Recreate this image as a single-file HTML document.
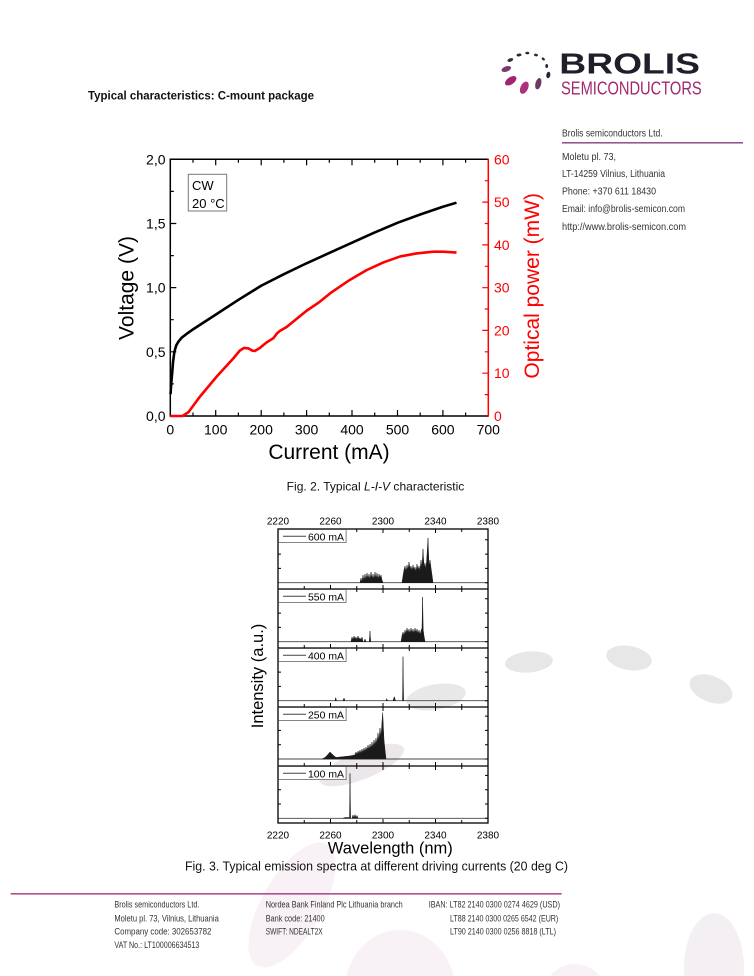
<!DOCTYPE html>
<html><head><meta charset="utf-8"><style>
html,body{margin:0;padding:0;background:#fff;width:754px;height:976px;overflow:hidden;}
svg{display:block;overflow:hidden;}
text{font-family:"Liberation Sans",sans-serif;}
</style></head><body>
<svg width="754" height="976" viewBox="0 0 754 976" xmlns="http://www.w3.org/2000/svg">
<!-- background decorative shapes -->
<ellipse cx="529" cy="662" rx="24" ry="10.5" transform="rotate(-5 529 662)" fill="#e7e7e7"/>
<ellipse cx="629" cy="658" rx="23" ry="12" transform="rotate(10 629 658)" fill="#e7e7e7"/>
<ellipse cx="711" cy="689" rx="22.5" ry="13" transform="rotate(22 711 689)" fill="#e7e7e7"/>
<ellipse cx="436" cy="697" rx="30" ry="12.7" transform="rotate(-10 436 697)" fill="#e8e8e8"/>
<ellipse cx="362" cy="765" rx="45" ry="14" transform="rotate(-22 362 765)" fill="#ebe7ea"/>
<ellipse cx="292" cy="905" rx="30" ry="70" transform="rotate(30 292 905)" fill="#f8f1f5"/>
<path d="M346.5,976 A55,60 0 0 1 453.5,976 Z" fill="#f8f1f5"/>
<path d="M550.4,976 A30,28 0 0 1 599.6,976 Z" fill="#f8f1f5"/>
<path d="M684.3,976 A30,55 0 1 1 743.7,976 Z" fill="#f3eff2"/>

<!-- logo -->
<g>
<ellipse cx="510.7" cy="80.8" rx="6.5" ry="3.6" transform="rotate(-35 510.7 80.8)" fill="#a1246f"/>
<ellipse cx="524.3" cy="87.7" rx="3.8" ry="6.5" transform="rotate(25 524.3 87.7)" fill="#b02f7b"/>
<ellipse cx="538.3" cy="83.7" rx="2.9" ry="5.8" transform="rotate(15 538.3 83.7)" fill="#6e3a62"/>
<ellipse cx="506.3" cy="69" rx="5" ry="2.6" transform="rotate(-20 506.3 69)" fill="#7a3a6e"/>
<ellipse cx="510.3" cy="60" rx="3" ry="1.7" transform="rotate(-20 510.3 60)" fill="#3a2a3a"/>
<ellipse cx="519" cy="55" rx="2.5" ry="1.4" transform="rotate(-10 519 55)" fill="#2e2532"/>
<ellipse cx="527.3" cy="53" rx="2" ry="1.3" fill="#2e2532"/>
<ellipse cx="536" cy="55" rx="2" ry="1.3" transform="rotate(15 536 55)" fill="#2e2532"/>
<ellipse cx="543.3" cy="59" rx="1.8" ry="1.2" transform="rotate(40 543.3 59)" fill="#2e2532"/>
<ellipse cx="546.7" cy="66" rx="1.4" ry="2" fill="#2e2532"/>
<ellipse cx="548.3" cy="75" rx="2" ry="3.3" transform="rotate(10 548.3 75)" fill="#2a2030"/>
<text x="559.3" y="73.3" font-size="28.8" font-weight="bold" fill="#1f1f2b" textLength="140.7" lengthAdjust="spacingAndGlyphs">BROLIS</text>
<text x="561" y="94.3" font-size="18.5" fill="#a0286e" textLength="140.7" lengthAdjust="spacingAndGlyphs">SEMICONDUCTORS</text>
</g>

<!-- header -->
<text x="88" y="99.5" font-size="12" font-weight="bold" fill="#111" textLength="226" lengthAdjust="spacingAndGlyphs">Typical characteristics: C-mount package</text>

<!-- right column -->
<g font-size="10" fill="#333">
<text x="562" y="136.5" textLength="100.7" lengthAdjust="spacingAndGlyphs">Brolis semiconductors Ltd.</text>
<line x1="562" y1="142.8" x2="743" y2="142.8" stroke="#8a3a7e" stroke-width="1.4"/>
<text x="562" y="160" textLength="54" lengthAdjust="spacingAndGlyphs">Moletu pl.  73,</text>
<text x="562" y="177" textLength="103" lengthAdjust="spacingAndGlyphs">LT-14259 Vilnius, Lithuania</text>
<text x="562" y="194.5" textLength="94" lengthAdjust="spacingAndGlyphs">Phone: +370 611 18430</text>
<text x="562" y="212" textLength="123" lengthAdjust="spacingAndGlyphs">Email: info@brolis-semicon.com</text>
<text x="562" y="230" textLength="124" lengthAdjust="spacingAndGlyphs">http://www.brolis-semicon.com</text>
</g>

<!-- ===== Chart 1 ===== -->
<g>
<g stroke="#000" stroke-width="1.2">
<path d="M193,416v-3.5M215.7,416v-6M238.4,416v-3.5M261.2,416v-6M283.9,416v-3.5M306.6,416v-6M329.3,416v-3.5M352,416v-6M374.7,416v-3.5M397.5,416v-6M420.2,416v-3.5M442.9,416v-6M465.6,416v-3.5"/>
<path d="M193,159.3v3.5M215.7,159.3v6M238.4,159.3v3.5M261.2,159.3v6M283.9,159.3v3.5M306.6,159.3v6M329.3,159.3v3.5M352,159.3v6M374.7,159.3v3.5M397.5,159.3v6M420.2,159.3v3.5M442.9,159.3v6M465.6,159.3v3.5"/>
<path d="M170.3,383.9h3.5M170.3,351.8h6M170.3,319.7h3.5M170.3,287.6h6M170.3,255.6h3.5M170.3,223.5h6M170.3,191.4h3.5"/>
</g>
<g stroke="#f00" stroke-width="1.2">
<path d="M488.3,394.6h-3.5M488.3,373.2h-6M488.3,351.8h-3.5M488.3,330.4h-6M488.3,309h-3.5M488.3,287.7h-6M488.3,266.3h-3.5M488.3,244.9h-6M488.3,223.5h-3.5M488.3,202.1h-6M488.3,180.7h-3.5"/>
</g>
<path d="M488.3,159.3H170.3V416H488.3" fill="none" stroke="#000" stroke-width="1.5"/>
<line x1="488.3" y1="158.6" x2="488.3" y2="416.7" stroke="#f00" stroke-width="1.5"/>

<g transform="translate(170.3,416) scale(0.4543,-4.278)">
<polyline fill="none" stroke="#f00" stroke-width="2.6" vector-effect="non-scaling-stroke" stroke-linejoin="round" points="0,0 27,0 40,0.9 65,4.5 102,9.2 139,13.5 153,15.3 162,15.9 172,15.8 180,15.3 186,15.2 197,15.9 212,17.2 227,18.2 234,19.2 240,19.8 256,20.8 300,24.6 329,26.7 352,28.7 395,31.8 432,34.1 469,35.9 506,37.3 542,38 579,38.4 600,38.4 630,38.2"/>
</g>
<g transform="translate(170.3,416) scale(0.4543,-128.35)">
<polyline fill="none" stroke="#000" stroke-width="2.6" vector-effect="non-scaling-stroke" stroke-linejoin="round" points="0.5,0.17 2,0.25 4,0.33 6,0.42 9,0.5 13,0.55 18,0.58 25,0.61 35,0.637 50,0.675 100,0.79 150,0.905 200,1.015 250,1.105 300,1.19 350,1.27 400,1.35 450,1.43 500,1.505 550,1.57 600,1.63 630,1.662"/>
</g>

<rect x="188.3" y="174.3" width="38.4" height="36.7" fill="#fff" stroke="#777" stroke-width="1"/>
<text x="192" y="190" font-size="13" fill="#000">CW</text>
<text x="192" y="208" font-size="13" fill="#000">20 °C</text>

<g font-size="14" fill="#000" text-anchor="end">
<text x="165.5" y="421">0,0</text>
<text x="165.5" y="356.8">0,5</text>
<text x="165.5" y="292.6">1,0</text>
<text x="165.5" y="228.5">1,5</text>
<text x="165.5" y="164.3">2,0</text>
</g>
<g font-size="14" fill="#f00">
<text x="494" y="421">0</text>
<text x="494" y="378.2">10</text>
<text x="494" y="335.4">20</text>
<text x="494" y="292.7">30</text>
<text x="494" y="249.9">40</text>
<text x="494" y="207.1">50</text>
<text x="494" y="164.3">60</text>
</g>
<g font-size="14" fill="#000" text-anchor="middle">
<text x="170.3" y="434.5">0</text>
<text x="215.7" y="434.5">100</text>
<text x="261.2" y="434.5">200</text>
<text x="306.6" y="434.5">300</text>
<text x="352" y="434.5">400</text>
<text x="397.5" y="434.5">500</text>
<text x="442.9" y="434.5">600</text>
<text x="488.3" y="434.5">700</text>
</g>
<text x="329" y="459" font-size="21" text-anchor="middle" fill="#000">Current (mA)</text>
<text transform="translate(133.5,288) rotate(-90)" font-size="21" text-anchor="middle" fill="#000">Voltage (V)</text>
<text transform="translate(539,285.8) rotate(-90)" font-size="21" text-anchor="middle" fill="#f00">Optical power (mW)</text>
</g>

<text x="286.7" y="490.5" font-size="12" fill="#111" textLength="177.6" lengthAdjust="spacingAndGlyphs">Fig. 2. Typical <tspan font-style="italic">L-I-V</tspan> characteristic</text>

<!-- ===== Chart 2 ===== -->
<g>
<g stroke="#444" stroke-width="0.9">
<line x1="278" y1="582.7" x2="488" y2="582.7"/>
<line x1="278" y1="641.7" x2="488" y2="641.7"/>
<line x1="278" y1="700.7" x2="488" y2="700.7"/>
<line x1="278" y1="759" x2="488" y2="759"/>
<line x1="278" y1="818.3" x2="488" y2="818.3"/>
</g>
<g fill="#1a1a1a" stroke="#1a1a1a" stroke-width="0.5" stroke-linejoin="round">
<polygon points="360,582.7 361,578 362,582 363,575 364,581 365,574 366,580 367,573 368,579 369,574 370,580 371,572 372,579 373,574 374,580 375,572 376,579 377,573 378,580 379,574 380,578 381,575 382,580 383,582.7"/>
<polygon points="402,582.7 403,576 404,570 405,566 406,572 407,565 408,570 409,562 410,569 411,566 412,571 413,565 414,570 415,567 416,572 417,564 418,570 419,566 420,571 421,560 422,568 423,549 424,567 425,563 426,570 427,555 428,538 429,566 430,560 431,568 432,575 433,582.7"/>
<polygon points="351,641.7 352,637 353,640 354,636 355,639 356,637 357,640 358,636 359,639 360,638 361,640 362,637 363,641.7"/>
<polygon points="364,641.7 365,639 366,641.7"/>
<polygon points="369.3,641.7 370,631 370.7,641.7"/>
<polygon points="401,641.7 402,636 403,632 404,636 405,630 406,634 407,628 408,633 409,629 410,634 411,628 412,633 413,629 414,634 415,628 416,633 417,629 418,634 419,630 420,635 421,631 422,628 422.6,597 423.2,630 424,636 425,641.7"/>
<polygon points="335,700.7 335.7,697.5 336.5,700.7"/>
<polygon points="343,700.7 344,698 345,700.7"/>
<polygon points="386,700.7 386.7,698.7 387.5,700.7"/>
<polygon points="393,700.7 394.3,696.7 395.5,700.7"/>
<polygon points="402.5,700.7 403,656.7 403.6,700.7"/>
<polygon points="322,759 325,757.5 327,755.5 330,752 333,755 336,757.5 340,757 345,756.5 350,756 355,755 356,752 357,755 358,751 359,754 360,750 361,754 362,749 363,753 364,748 365,752 366,747 367,751 368,745 369,750 370,744 371,749 372,742 373,748 374,740 375,746 376,738 377,744 378,733 379,741 380,728 381,738 382,722 382.7,712.7 383.4,728 384,740 385,750 386,759"/>
<polygon points="343,818.3 345,817.5 349,817.5 349.5,818.3"/>
<polygon points="349.5,818.3 350,773.3 350.6,818.3"/>
<polygon points="352,818.3 353,815 354,818 355,814.5 356,818 357,815.5 358,818.3"/>
</g>

<g stroke="#000" stroke-width="1">
<path d="M304.25,589v-3M330.5,589v-4M356.75,589v-3M383,589v-4M409.25,589v-3M435.5,589v-4M461.75,589v-3
M304.25,648v-3M330.5,648v-4M356.75,648v-3M383,648v-4M409.25,648v-3M435.5,648v-4M461.75,648v-3
M304.25,707v-3M330.5,707v-4M356.75,707v-3M383,707v-4M409.25,707v-3M435.5,707v-4M461.75,707v-3
M304.25,766v-3M330.5,766v-4M356.75,766v-3M383,766v-4M409.25,766v-3M435.5,766v-4M461.75,766v-3
M304.25,823v-3M330.5,823v-4M356.75,823v-3M383,823v-4M409.25,823v-3M435.5,823v-4M461.75,823v-3"/>
<path d="M304.25,529v3M330.5,529v4M356.75,529v3M383,529v4M409.25,529v3M435.5,529v4M461.75,529v3
M304.25,589v3M330.5,589v4M356.75,589v3M383,589v4M409.25,589v3M435.5,589v4M461.75,589v3
M304.25,648v3M330.5,648v4M356.75,648v3M383,648v4M409.25,648v3M435.5,648v4M461.75,648v3
M304.25,707v3M330.5,707v4M356.75,707v3M383,707v4M409.25,707v3M435.5,707v4M461.75,707v3
M304.25,766v3M330.5,766v4M356.75,766v3M383,766v4M409.25,766v3M435.5,766v4M461.75,766v3"/>
<path d="M488,582.7h-3M488,568.4h-3M488,554.1h-3M488,539.8h-3
M488,641.7h-3M488,627.4h-3M488,613.1h-3M488,598.8h-3
M488,700.7h-3M488,686.4h-3M488,672.1h-3M488,657.8h-3
M488,759h-3M488,744.7h-3M488,730.4h-3M488,716.1h-3
M488,818.3h-3M488,804h-3M488,789.7h-3M488,775.4h-3"/>
<path d="M278,568.4h3M278,554.1h3M278,627.4h3M278,613.1h3M278,686.4h3M278,672.1h3M278,744.7h3M278,730.4h3M278,804h3M278,789.7h3"/>
</g>
<g fill="none" stroke="#000" stroke-width="1.3">
<rect x="278" y="529" width="210" height="294"/>
<line x1="278" y1="589" x2="488" y2="589"/>
<line x1="278" y1="648" x2="488" y2="648"/>
<line x1="278" y1="707" x2="488" y2="707"/>
<line x1="278" y1="766" x2="488" y2="766"/>
</g>
<g font-size="10.5" fill="#000">
<rect x="278.6" y="529.6" width="67.5" height="13" fill="#fff" stroke="#666" stroke-width="0.8"/>
<line x1="283" y1="536.2" x2="306" y2="536.2" stroke="#444" stroke-width="1"/>
<text x="308" y="540.3" textLength="36" lengthAdjust="spacingAndGlyphs">600 mA</text>
<rect x="278.6" y="589.6" width="67.5" height="13" fill="#fff" stroke="#666" stroke-width="0.8"/>
<line x1="283" y1="596.2" x2="306" y2="596.2" stroke="#444" stroke-width="1"/>
<text x="308" y="600.3" textLength="36" lengthAdjust="spacingAndGlyphs">550 mA</text>
<rect x="278.6" y="648.6" width="67.5" height="13" fill="#fff" stroke="#666" stroke-width="0.8"/>
<line x1="283" y1="655.2" x2="306" y2="655.2" stroke="#444" stroke-width="1"/>
<text x="308" y="659.3" textLength="36" lengthAdjust="spacingAndGlyphs">400 mA</text>
<rect x="278.6" y="707.6" width="67.5" height="13" fill="#fff" stroke="#666" stroke-width="0.8"/>
<line x1="283" y1="714.2" x2="306" y2="714.2" stroke="#444" stroke-width="1"/>
<text x="308" y="718.3" textLength="36" lengthAdjust="spacingAndGlyphs">250 mA</text>
<rect x="278.6" y="766.6" width="67.5" height="13" fill="#fff" stroke="#666" stroke-width="0.8"/>
<line x1="283" y1="773.2" x2="306" y2="773.2" stroke="#444" stroke-width="1"/>
<text x="308" y="777.3" textLength="36" lengthAdjust="spacingAndGlyphs">100 mA</text>
</g>
<g font-size="10" fill="#000" text-anchor="middle">
<text x="278" y="524.3">2220</text>
<text x="330.5" y="524.3">2260</text>
<text x="383" y="524.3">2300</text>
<text x="435.5" y="524.3">2340</text>
<text x="488" y="524.3">2380</text>
<text x="278" y="838.7">2220</text>
<text x="330.5" y="838.7">2260</text>
<text x="383" y="838.7">2300</text>
<text x="435.5" y="838.7">2340</text>
<text x="488" y="838.7">2380</text>
</g>
<text x="390.3" y="853.3" font-size="16.5" text-anchor="middle" fill="#000">Wavelength (nm)</text>
<text transform="translate(263,676) rotate(-90)" font-size="16.5" text-anchor="middle" fill="#000">Intensity (a.u.)</text>
</g>

<text x="185" y="870.5" font-size="12.5" fill="#111" textLength="383" lengthAdjust="spacingAndGlyphs">Fig. 3. Typical emission spectra at different driving currents (20 deg C)</text>

<line x1="10.6" y1="893.8" x2="561.7" y2="893.8" stroke="#b5508f" stroke-width="1.6"/>
<g font-size="9" fill="#333">
<text x="114.4" y="907.3" textLength="85" lengthAdjust="spacingAndGlyphs">Brolis semiconductors Ltd.</text>
<text x="114.4" y="921.3" textLength="104.4" lengthAdjust="spacingAndGlyphs">Moletu pl. 73, Vilnius, Lithuania</text>
<text x="114.4" y="934.7" textLength="97" lengthAdjust="spacingAndGlyphs">Company code: 302653782</text>
<text x="114.4" y="948" textLength="85" lengthAdjust="spacingAndGlyphs">VAT No.: LT100006634513</text>
<text x="265.7" y="907.3" textLength="137" lengthAdjust="spacingAndGlyphs">Nordea Bank Finland Plc Lithuania branch</text>
<text x="265.7" y="921.3" textLength="59" lengthAdjust="spacingAndGlyphs">Bank code: 21400</text>
<text x="265.7" y="934.7" textLength="57" lengthAdjust="spacingAndGlyphs">SWIFT: NDEALT2X</text>
<text x="428.7" y="907.3" textLength="131.3" lengthAdjust="spacingAndGlyphs">IBAN:  LT82 2140 0300 0274 4629 (USD)</text>
<text x="450" y="921.3" textLength="108.3" lengthAdjust="spacingAndGlyphs">LT88 2140 0300 0265 6542 (EUR)</text>
<text x="450" y="934.7" textLength="106" lengthAdjust="spacingAndGlyphs">LT90 2140 0300 0256 8818 (LTL)</text>
</g>
</svg>
</body></html>
